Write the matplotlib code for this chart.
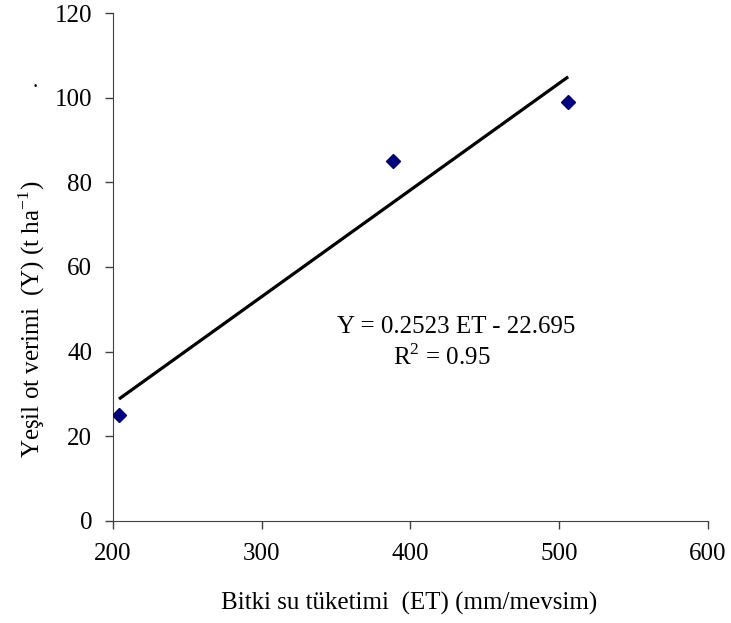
import numpy as np
import matplotlib.pyplot as plt

plt.rcParams['font.family'] = ['Liberation Serif', 'DejaVu Serif']
plt.rcParams['mathtext.fontset'] = 'custom'
plt.rcParams['mathtext.rm'] = 'Liberation Serif'

# measured points
et = [204, 388, 506]
yield_t = [25, 85, 99]

# regression: Y = 0.2523 ET - 22.695
slope = 0.2523
intercept = -22.695

xticks = [200, 300, 400, 500, 600]
yticks = [0, 20, 40, 60, 80, 100, 120]

fig = plt.figure(figsize=(7.31, 6.23), dpi=100)
ax = fig.add_axes([0.1546, 0.1642, 0.8139, 0.8145])

fit_x = np.array([min(et), max(et)])
ax.plot(fit_x, slope * fit_x + intercept, color='black', lw=2.3,
        solid_capstyle='butt', zorder=2)
ax.plot(et, yield_t, linestyle='none', marker='D', ms=7.5, color='#000080', zorder=3)

ax.set_xlim(200, 600)
ax.set_ylim(0, 120)
ax.set_xticks(xticks)
ax.set_yticks(yticks)
ax.tick_params(direction='out', length=6, width=1, color='#404040', labelsize=18)
ax.tick_params(axis='x', pad=10)
ax.tick_params(axis='y', pad=9)
for s in ['top', 'right']:
    ax.spines[s].set_visible(False)
for s in ['left', 'bottom']:
    ax.spines[s].set_color('#404040')

fig.text(0.5595, 0.022, 'Bitki su tüketimi  (ET) (mm/mevsim)', fontsize=18,
         ha='center', va='baseline')
fig.text(0.0547, 0.487, 'Yeşil ot verimi  (Y) (t ha$^{\\mathregular{-1}}$)', fontsize=18,
         rotation=90, rotation_mode='anchor', ha='center', va='baseline')
fig.text(0.048, 0.868, '.', fontsize=15, ha='center', va='center')

ax.text(431, 44.3, 'Y = 0.2523 ET - 22.695', fontsize=18, ha='center', va='baseline')
ax.text(421, 36.8, 'R$^{\\mathregular{2}}$ = 0.95', fontsize=18, ha='center', va='baseline')

fig.savefig('out.png', dpi=100)
